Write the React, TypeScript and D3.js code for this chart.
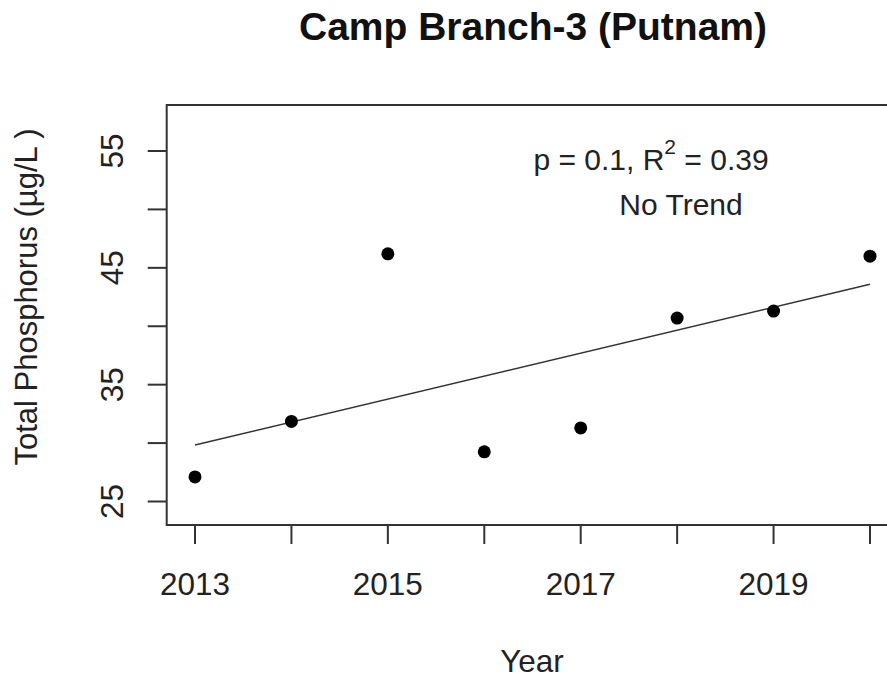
import React, { useEffect, useRef } from 'react';
import * as d3 from 'd3';

// Annual total phosphorus readings
const years = [2013, 2014, 2015, 2016, 2017, 2018, 2019, 2020];
const phosphorus = [27.1, 31.85, 46.2, 29.25, 31.3, 40.7, 41.3, 46.0];

const xTicks = [2013, 2014, 2015, 2016, 2017, 2018, 2019, 2020];
const xTickLabels = ['2013', '', '2015', '', '2017', '', '2019', ''];
const yTicks = [25, 30, 35, 40, 45, 50, 55];
const yTickLabels = ['25', '', '35', '', '45', '', '55'];

const title = 'Camp Branch-3 (Putnam)';
const xLabel = 'Year';
const yLabel = 'Total Phosphorus (µg/L )';
const statText = { p: '0.1', r2: '0.39', trend: 'No Trend' };

const WIDTH = 887;
const HEIGHT = 679;
const FONT = '"Liberation Sans", Arial, sans-serif';

export default function App() {
  const svgRef = useRef<SVGSVGElement>(null);

  useEffect(() => {
    if (!svgRef.current) return;
    d3.select(svgRef.current).selectAll('*').remove();

    const svg = d3.select(svgRef.current)
      .attr('width', WIDTH)
      .attr('height', HEIGHT);

    // plot box (right edge runs off the picture)
    const box = { left: 166.7, top: 105, right: 897, bottom: 525 };

    const x = d3.scaleLinear().domain([2013, 2020]).range([195, 870]);
    const y = d3.scaleLinear().domain([25, 55]).range([501.5, 151]);

    svg.append('rect')
      .attr('x', box.left)
      .attr('y', box.top)
      .attr('width', box.right - box.left)
      .attr('height', box.bottom - box.top)
      .attr('fill', 'none')
      .attr('stroke', '#333')
      .attr('stroke-width', 2);

    // x ticks
    const tickLen = 19;
    svg.append('g').selectAll('line')
      .data(xTicks)
      .join('line')
      .attr('x1', d => x(d)).attr('x2', d => x(d))
      .attr('y1', box.bottom).attr('y2', box.bottom + tickLen)
      .attr('stroke', '#333').attr('stroke-width', 2);

    svg.append('g').selectAll('text')
      .data(xTicks)
      .join('text')
      .attr('x', d => x(d))
      .attr('y', 595)
      .attr('text-anchor', 'middle')
      .attr('font-family', FONT)
      .attr('font-size', 31.5)
      .attr('fill', '#222')
      .text((d, i) => xTickLabels[i]);

    // y ticks
    svg.append('g').selectAll('line')
      .data(yTicks)
      .join('line')
      .attr('x1', box.left - tickLen).attr('x2', box.left)
      .attr('y1', d => y(d)).attr('y2', d => y(d))
      .attr('stroke', '#333').attr('stroke-width', 2);

    svg.append('g').selectAll('text')
      .data(yTicks)
      .join('text')
      .attr('transform', d => `translate(123,${y(d)}) rotate(-90)`)
      .attr('text-anchor', 'middle')
      .attr('font-family', FONT)
      .attr('font-size', 31.5)
      .attr('fill', '#222')
      .text((d, i) => yTickLabels[i]);

    // regression line
    const mx = d3.mean(years)!;
    const my = d3.mean(phosphorus)!;
    const sxy = d3.sum(years, (v, i) => (v - mx) * (phosphorus[i] - my));
    const sxx = d3.sum(years, v => (v - mx) ** 2);
    const slope = sxy / sxx;
    const icpt = my - slope * mx;
    const x0 = d3.min(years)!;
    const x1 = d3.max(years)!;

    svg.append('line')
      .attr('x1', x(x0)).attr('y1', y(icpt + slope * x0))
      .attr('x2', x(x1)).attr('y2', y(icpt + slope * x1))
      .attr('stroke', '#333')
      .attr('stroke-width', 1.6);

    // points
    svg.append('g').selectAll('circle')
      .data(years)
      .join('circle')
      .attr('cx', d => x(d))
      .attr('cy', (d, i) => y(phosphorus[i]))
      .attr('r', 6.5)
      .attr('fill', '#000');

    // annotation
    const ann = svg.append('text')
      .attr('x', 651)
      .attr('y', 170)
      .attr('text-anchor', 'middle')
      .attr('font-family', FONT)
      .attr('font-size', 30)
      .attr('fill', '#222');
    ann.append('tspan').text(`p = ${statText.p}, R`);
    ann.append('tspan').attr('dy', -16).attr('font-size', 21).text('2');
    ann.append('tspan').attr('dy', 16).text(` = ${statText.r2}`);

    svg.append('text')
      .attr('x', 681)
      .attr('y', 215)
      .attr('text-anchor', 'middle')
      .attr('font-family', FONT)
      .attr('font-size', 30)
      .attr('fill', '#222')
      .text(statText.trend);

    // title and axis labels
    svg.append('text')
      .attr('x', 533)
      .attr('y', 40)
      .attr('text-anchor', 'middle')
      .attr('font-family', FONT)
      .attr('font-size', 39)
      .attr('font-weight', 'bold')
      .attr('fill', '#111')
      .text(title);

    svg.append('text')
      .attr('x', 532)
      .attr('y', 672)
      .attr('text-anchor', 'middle')
      .attr('font-family', FONT)
      .attr('font-size', 31.5)
      .attr('fill', '#222')
      .text(xLabel);

    svg.append('text')
      .attr('transform', `translate(37,297) rotate(-90)`)
      .attr('text-anchor', 'middle')
      .attr('font-family', FONT)
      .attr('font-size', 31)
      .attr('fill', '#222')
      .text(yLabel);
  }, []);

  return (
    <svg
      ref={svgRef}
      style={{ position: 'absolute', left: 0, top: 0, background: '#fff' }}
    />
  );
}
